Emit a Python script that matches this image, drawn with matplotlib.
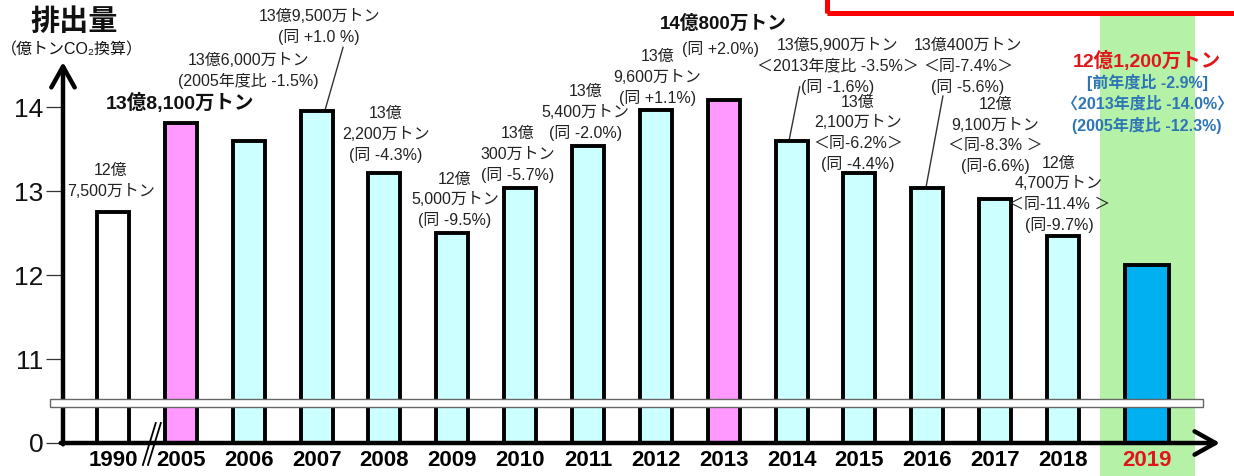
import numpy as np
import matplotlib
matplotlib.use('Agg')
import matplotlib.pyplot as plt
from matplotlib.patches import Rectangle

plt.rcParams['font.family'] = ['Liberation Sans', 'Noto Sans CJK JP', 'DejaVu Sans']

years = ['1990', '2005', '2006', '2007', '2008', '2009', '2010', '2011',
         '2012', '2013', '2014', '2015', '2016', '2017', '2018', '2019']
# 億トンCO2換算
emissions = [12.75, 13.81, 13.60, 13.95, 13.22, 12.50, 13.03, 13.54,
             13.96, 14.08, 13.59, 13.21, 13.04, 12.91, 12.47, 12.12]
kinds = ['base', 'ref', 'yr', 'yr', 'yr', 'yr', 'yr', 'yr',
         'yr', 'ref', 'yr', 'yr', 'yr', 'yr', 'yr', 'now']
fills = {'base': 'white', 'ref': '#ff99ff', 'yr': '#ccffff', 'now': '#00b0f0'}

notes = [
    ['12億', '7,500万トン'],
    ['13億8,100万トン'],
    ['13億6,000万トン', '(2005年度比 -1.5%)'],
    ['13億9,500万トン', '(同 +1.0 %)'],
    ['13億', '2,200万トン', '(同 -4.3%)'],
    ['12億', '5,000万トン', '(同 -9.5%)'],
    ['13億', '300万トン', '(同 -5.7%)'],
    ['13億', '5,400万トン', '(同 -2.0%)'],
    ['13億', '9,600万トン', '(同 +1.1%)'],
    ['14億800万トン', '(同 +2.0%)'],
    ['13億5,900万トン', '＜2013年度比 -3.5%＞', '(同 -1.6%)'],
    ['13億', '2,100万トン', '＜同-6.2%＞', '(同 -4.4%)'],
    ['13億400万トン', '＜同-7.4%＞', '(同 -5.6%)'],
    ['12億', '9,100万トン', '＜同-8.3% ＞', '(同-6.6%)'],
    ['12億', '4,700万トン', '＜同-11.4% ＞', '(同-9.7%)'],
    ['12億1,200万トン', '[前年度比 -2.9%]', '〈2013年度比 -14.0%〉', '(2005年度比 -12.3%)'],
]
# where each note sits: offset from its bar, height of its first line
note_dx = [-0.03, -0.01, 0.0, 0.04, 0.02, 0.04, -0.03, -0.04,
           0.02, -0.01, 0.68, -0.02, 0.6, 0.0, -0.06, 0.0]
note_y = [13.24, 14.05, 14.56, 15.08, 13.92, 13.14, 13.68, 14.18,
          14.6, 14.99, 14.73, 14.06, 14.73, 14.03, 13.33, 14.55]
# leader lines: bar index, start of line (x offset, height), x offset at bar top
leaders = [(3, 0.39, 14.71, 0.12), (10, 0.12, 14.24, -0.04), (12, 0.23, 14.13, -0.02)]


def fwd(v):
    v = np.asarray(v, dtype=float)
    return np.where(v < 11, 10 + v / 11, v)


def inv(f):
    f = np.asarray(f, dtype=float)
    return np.where(f < 11, (f - 10) * 11, f)


fig = plt.figure(figsize=(12.34, 4.76), dpi=100)
ax = fig.add_axes([63 / 1234, 33 / 476, 1171 / 1234, 443 / 476])
ax.set_yscale('function', functions=(fwd, inv))
ax.set_xlim(-0.737, 16.52)
ax.set_ylim(0, 15.274)
for s in ax.spines.values():
    s.set_visible(False)

x = np.arange(len(years), dtype=float)
x[-1] += 0.24
widths = [0.47] * (len(years) - 1) + [0.64]

ax.axvspan(x[-1] - 0.7, x[-1] + 0.7, ymin=-0.075, ymax=0.97,
           color='#b5f2a8', lw=0, zorder=0, clip_on=False)
ax.bar(x, emissions, width=widths, color=[fills[k] for k in kinds],
       edgecolor='black', linewidth=2.8, zorder=3)

# axes with arrow heads
arrow = dict(arrowstyle='->,head_length=0.75,head_width=0.42', lw=3.2,
             color='black', shrinkA=0, shrinkB=0, mutation_scale=20)
ax.annotate('', xy=(0, 0.86), xytext=(0, -0.003), xycoords='axes fraction',
            arrowprops=arrow, zorder=4, annotation_clip=False)
ax.annotate('', xy=(0.988, 0), xytext=(-0.002, 0), xycoords='axes fraction',
            arrowprops=arrow, zorder=4, annotation_clip=False)

# axis break
ax.add_patch(Rectangle((-0.928, 4.71), 16.99, 1.05, facecolor='white',
                       edgecolor='#666666', lw=1, zorder=6, clip_on=False))
for off in [0, 0.075]:
    ax.plot([0.44 + off, 0.63 + off], [-2.88, 2.62], color='black', lw=1.3,
            zorder=6, clip_on=False)

ax.set_yticks([0, 11, 12, 13, 14])
ax.set_yticklabels(['0', '11', '12', '13', '14'])
ax.tick_params(axis='y', length=12, width=0.9, color='#333333', pad=2,
               labelsize=19, labelcolor='#111111')
ax.set_xticks(x, years)
ax.tick_params(axis='x', length=0, pad=5, labelsize=16)
for lbl in ax.get_xticklabels():
    lbl.set_fontweight('bold')
ax.get_xticklabels()[-1].set_color('#e0161b')

for i, lines in enumerate(notes):
    for k, line in enumerate(lines):
        kw = dict(fontsize=11.5, color='#222222')
        step = 0.245
        if i == 1 or (i == 9 and k == 0):
            kw = dict(fontsize=14 if i == 1 else 13.5, fontweight='bold', color='#111111')
        if i == 9 and k == 1:
            ax.text(x[i] + note_dx[i] - 0.04, note_y[i] - 0.3, line, ha='center',
                    va='center', **kw)
            continue
        if i == len(notes) - 1:
            step = 0.255
            if k == 0:
                kw = dict(fontsize=14, fontweight='bold', color='#e0161b')
            else:
                kw = dict(fontsize=11.5, fontweight='bold', color='#2e75b6')
        ax.text(x[i] + note_dx[i], note_y[i] - k * step, line, ha='center',
                va='center', zorder=7, **kw)

for i, dx0, y0, dx1 in leaders:
    ax.plot([x[i] + dx0, x[i] + dx1], [y0, emissions[i]], color='#333333',
            lw=1, zorder=2)

fig.text(74 / 1234, 1 - 22 / 476, '排出量', fontsize=21, fontweight='bold',
         ha='center', va='center', color='#111111')
fig.text(72 / 1234, 1 - 50 / 476, '（億トンCO₂換算）', fontsize=11.5,
         ha='center', va='center', color='#111111')

# red frame cut off at the top right
fig.patches.append(Rectangle((827 / 1234, 1 - 13 / 476), 0.5, 0.2,
                             transform=fig.transFigure, fill=False,
                             edgecolor='#ff0000', lw=3.6))

fig.savefig('out.png', dpi=100)
